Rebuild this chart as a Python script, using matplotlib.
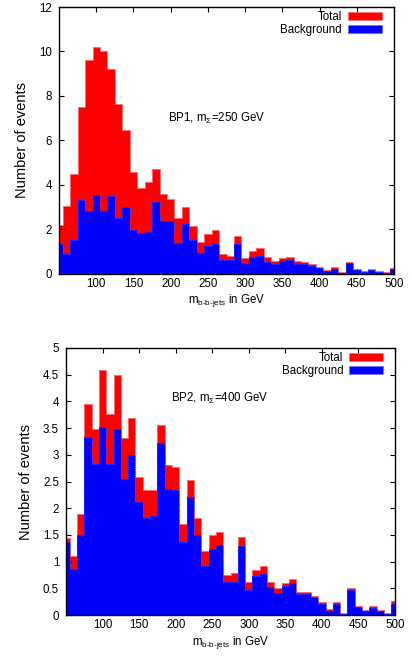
import numpy as np
import matplotlib
matplotlib.use("Agg")
import matplotlib.pyplot as plt
from matplotlib.patches import Patch

plt.rcParams['font.family'] = ['Liberation Sans', 'DejaVu Sans']
plt.rcParams['mathtext.fontset'] = 'custom'
plt.rcParams['mathtext.rm'] = 'Liberation Sans'
plt.rcParams['mathtext.it'] = 'Liberation Sans:italic'
plt.rcParams['mathtext.sf'] = 'Liberation Sans'

# bin centres (GeV), 10 GeV bins
centers = list(range(50, 501, 10))

# BP1 panel
total_bp1 = [2.18, 3.03, 4.50, 7.48, 9.63, 10.22, 10.04, 9.22, 7.63, 6.46,
             4.59, 3.83, 4.10, 4.70, 3.60, 3.34, 2.50, 2.98, 2.12, 1.44,
             1.76, 1.95, 0.86, 0.80, 1.67, 0.68, 1.00, 1.17, 0.75, 0.57,
             0.71, 0.74, 0.55, 0.51, 0.43, 0.28, 0.16, 0.30, 0.06, 0.54,
             0.19, 0.13, 0.21, 0.10, 0.06, 0.24]
background_bp1 = [1.34, 0.86, 1.49, 3.30, 2.82, 3.53, 2.82, 3.48, 2.51, 3.00,
                  1.94, 1.82, 1.87, 3.21, 2.36, 2.35, 1.38, 2.21, 1.51, 0.93,
                  1.25, 1.32, 0.62, 0.61, 1.31, 0.48, 0.74, 0.78, 0.54, 0.44,
                  0.56, 0.60, 0.43, 0.42, 0.36, 0.24, 0.11, 0.22, 0.03, 0.48,
                  0.16, 0.09, 0.15, 0.08, 0.03, 0.21]

# BP2 panel
total_bp2 = [1.45, 1.10, 1.90, 3.95, 3.49, 4.59, 3.77, 4.49, 3.31, 3.68,
             2.58, 2.35, 2.35, 3.56, 2.80, 2.77, 1.71, 2.52, 1.82, 1.19,
             1.49, 1.56, 0.75, 0.78, 1.46, 0.61, 0.84, 0.92, 0.62, 0.50,
             0.60, 0.67, 0.44, 0.43, 0.36, 0.25, 0.12, 0.24, 0.03, 0.50,
             0.17, 0.09, 0.16, 0.09, 0.03, 0.26]
background_bp2 = [1.36, 0.87, 1.50, 3.33, 2.82, 3.52, 2.83, 3.48, 2.55, 2.99,
                  2.12, 1.81, 1.86, 3.23, 2.36, 2.34, 1.37, 2.21, 1.50, 0.92,
                  1.24, 1.31, 0.62, 0.61, 1.30, 0.47, 0.73, 0.77, 0.53, 0.42,
                  0.54, 0.59, 0.40, 0.39, 0.34, 0.21, 0.07, 0.21, 0.01, 0.46,
                  0.15, 0.07, 0.14, 0.07, 0.02, 0.20]

xticks = [100, 150, 200, 250, 300, 350, 400, 450, 500]
yticks_bp1 = [0, 2, 4, 6, 8, 10, 12]
yticks_bp2 = [0, 0.5, 1, 1.5, 2, 2.5, 3, 3.5, 4, 4.5, 5]
ytick_labels_bp2 = ['0', '0.5', '1', '1.5', '2', '2.5', '3', '3.5', '4', '4.5', '5']

legend_labels = ['Total', 'Background']
titles = [r'BP1, m$_{\Sigma}$=250 GeV', r'BP2, m$_{\Sigma}$=400 GeV']
xlabel = r'm$_{\mathrm{b\text{-}b\text{-}jets}}$ in GeV'
ylabel = 'Number of events'

W, H = 412, 662
fig = plt.figure(figsize=(W / 100, H / 100), dpi=100)

def frac(l, t, r, b):
    return [l / W, 1 - b / H, (r - l) / W, (b - t) / H]

ax1 = fig.add_axes(frac(59, 7, 394, 273.5))
ax2 = fig.add_axes(frac(66, 348, 395, 615))

edges = np.array([c - 5 for c in centers] + [centers[-1] + 5], dtype=float)

fs = 8.3

def panel(ax, tot, bg, yticks, ylabels, ymax, title, txy):
    ax.stairs(tot, edges, fill=True, color='#ff0000', zorder=1)
    ax.stairs(tot, edges, fill=False, color='#ff7070', lw=0.7, zorder=1.1)
    ax.stairs(bg, edges, fill=True, color='#0000ff', zorder=2)
    ax.stairs(bg, edges, fill=False, color='#4040ff', lw=0.8, ls=(0, (1, 1)), zorder=2.1)
    ax.set_xlim(50, 500)
    ax.set_ylim(0, ymax)
    ax.set_xticks(xticks)
    ax.set_xticklabels([str(v) for v in xticks])
    ax.set_yticks(yticks)
    ax.set_yticklabels(ylabels)
    ax.tick_params(direction='in', length=3.5, width=0.8, top=True, right=True,
                   labelsize=fs, colors='black')
    ax.tick_params(axis='y', pad=5)
    ax.tick_params(axis='x', pad=3)
    for s in ax.spines.values():
        s.set_linewidth(1.0)
        s.set_zorder(5)
    ax.set_xlabel(xlabel, fontsize=fs, labelpad=2)
    ax.set_ylabel(ylabel, fontsize=10.5, labelpad=7)
    ax.text(txy[0], txy[1], title, fontsize=fs, ha='left', va='center')
    handles = [Patch(facecolor='#ff0000', edgecolor='#ff7070', lw=0.6),
               Patch(facecolor='#0000ff', edgecolor='#6060ff', lw=0.8, ls=':')]
    ax.legend(handles, legend_labels, loc='upper right', bbox_to_anchor=(0.965, 0.985),
              frameon=False, markerfirst=False, fontsize=fs, handlelength=3.0,
              handleheight=0.7, handletextpad=0.5, labelspacing=0.12,
              borderpad=0, borderaxespad=0)

panel(ax1, total_bp1, background_bp1, yticks_bp1, [str(v) for v in yticks_bp1],
      12, titles[0], (196, 7.0))
panel(ax2, total_bp2, background_bp2, yticks_bp2, ytick_labels_bp2,
      5, titles[1], (194, 4.05))

fig.savefig('out.png', dpi=100)
